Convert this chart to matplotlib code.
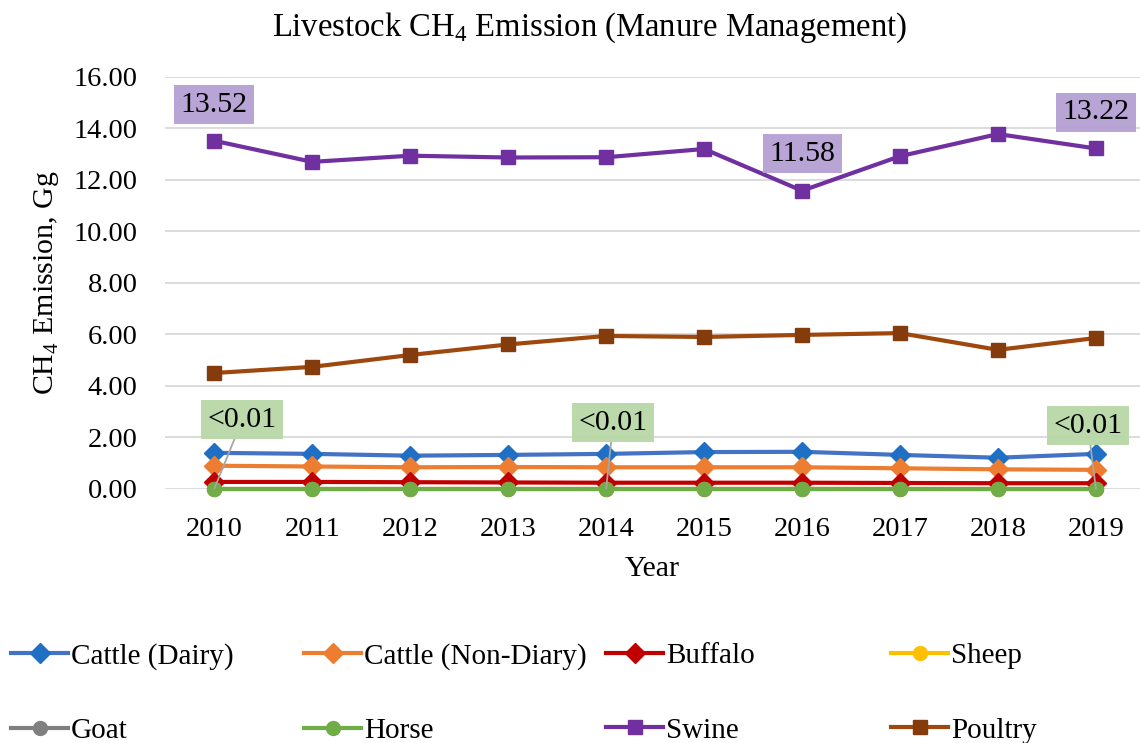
import matplotlib
matplotlib.use("Agg")
import matplotlib.pyplot as plt

plt.rcParams["font.family"] = ["Liberation Serif", "DejaVu Serif"]
plt.rcParams["mathtext.fontset"] = "custom"
plt.rcParams["mathtext.rm"] = "Liberation Serif"

years = ["2010", "2011", "2012", "2013", "2014", "2015", "2016", "2017", "2018", "2019"]

cattle_dairy = [1.40, 1.36, 1.29, 1.32, 1.36, 1.43, 1.44, 1.32, 1.21, 1.36]
cattle_non_dairy = [0.90, 0.87, 0.84, 0.85, 0.84, 0.84, 0.84, 0.80, 0.76, 0.74]
buffalo = [0.27, 0.27, 0.26, 0.25, 0.24, 0.24, 0.24, 0.23, 0.22, 0.22]
sheep = [0.004, 0.004, 0.004, 0.004, 0.004, 0.004, 0.004, 0.004, 0.004, 0.004]
goat = [0.005, 0.005, 0.005, 0.005, 0.005, 0.005, 0.005, 0.005, 0.005, 0.005]
horse = [0.003, 0.003, 0.003, 0.003, 0.003, 0.003, 0.003, 0.003, 0.003, 0.003]
swine = [13.52, 12.70, 12.94, 12.87, 12.88, 13.20, 11.58, 12.92, 13.78, 13.22]
poultry = [4.50, 4.74, 5.20, 5.61, 5.94, 5.90, 5.98, 6.05, 5.40, 5.86]

series = [
    ("Cattle (Dairy)", cattle_dairy, "#4472C4", "#1F6FC5", "D", 10),
    ("Cattle (Non-Diary)", cattle_non_dairy, "#ED7D31", "#ED7D31", "D", 10),
    ("Buffalo", buffalo, "#C00000", "#C00000", "D", 10),
    ("Sheep", sheep, "#FFC000", "#FFC000", "o", 10),
    ("Goat", goat, "#808080", "#808080", "o", 10),
    ("Horse", horse, "#70AD47", "#70AD47", "o", 10),
    ("Swine", swine, "#7030A0", "#7030A0", "s", 9.5),
    ("Poultry", poultry, "#9E480E", "#843C0C", "s", 9.5),
]

# data labels: (series values, index, text, box colour, offset in pixels, leader line)
purple_box = "#B49FD3"
green_box = "#B8D7A6"
labels = [
    (swine, 0, "13.52", purple_box, (0, 36), False),
    (swine, 6, "11.58", purple_box, (0, 37), False),
    (swine, 9, "13.22", purple_box, (0, 36), False),
    (horse, 0, "<0.01", green_box, (28, 69), True),
    (horse, 4, "<0.01", green_box, (7, 66), True),
    (horse, 9, "<0.01", green_box, (-8, 63), True),
]

fs_tick = 20.5
fs_lab = 21.5
fs_leg = 21
fig = plt.figure(figsize=(11.4, 7.43), dpi=100)
ax = fig.add_axes([0.145, 0.342, 0.855, 0.5545])

x = list(range(len(years)))
handles = []
for name, vals, lc, mc, mk, ms in series:
    h, = ax.plot(x, vals, color=lc, lw=3, marker=mk, ms=ms,
                 markerfacecolor=mc, markeredgecolor=mc, label=name,
                 clip_on=False, zorder=3)
    handles.append(h)

for vals, i, txt, bc, off, leader in labels:
    ap = None
    if leader:
        ap = dict(arrowstyle="-", color="#A6A6A6", lw=1.3, shrinkA=0, shrinkB=0)
    ax.annotate(txt, xy=(i, vals[i]), xytext=off, textcoords="offset pixels",
                ha="center", va="center", fontsize=fs_lab, color="black",
                bbox=dict(boxstyle="square,pad=0.22", fc=bc, ec="none", alpha=0.95),
                arrowprops=ap, zorder=5, annotation_clip=False)

ax.set_xlim(-0.5, 9.45)
ax.set_ylim(0, 16)
ax.set_yticks(range(0, 17, 2))
ax.set_yticklabels([f"{v:.2f}" for v in range(0, 17, 2)])
ax.set_xticks(x)
ax.set_xticklabels(years)
ax.tick_params(axis="both", length=0, labelsize=fs_tick)
ax.tick_params(axis="x", pad=20)
ax.tick_params(axis="y", pad=20)
ax.grid(axis="y", color="#D9D9D9", lw=1.3)
ax.set_axisbelow(True)
for s in ax.spines.values():
    s.set_visible(False)

ax.set_xlabel("Year", fontsize=fs_lab, labelpad=10)
ax.set_ylabel("CH$_\\mathregular{4}$ Emission, Gg", fontsize=fs_lab, labelpad=9)
fig.text(0.517, 0.962, "Livestock CH$_\\mathregular{4}$ Emission (Manure Management)",
         ha="center", va="center", fontsize=23.5)

# legend: four columns, two rows
col_x = [0.010, 0.267, 0.532, 0.782]
for c in range(4):
    hs = [handles[c], handles[c + 4]]
    fig.legend(handles=hs, labels=[h.get_label() for h in hs],
               loc="upper left", bbox_to_anchor=(col_x[c], 0.135),
               frameon=False, fontsize=fs_leg, handlelength=1.95, handletextpad=0.1,
               labelspacing=1.65, borderaxespad=0, borderpad=0)

fig.savefig("out.png", dpi=100)
